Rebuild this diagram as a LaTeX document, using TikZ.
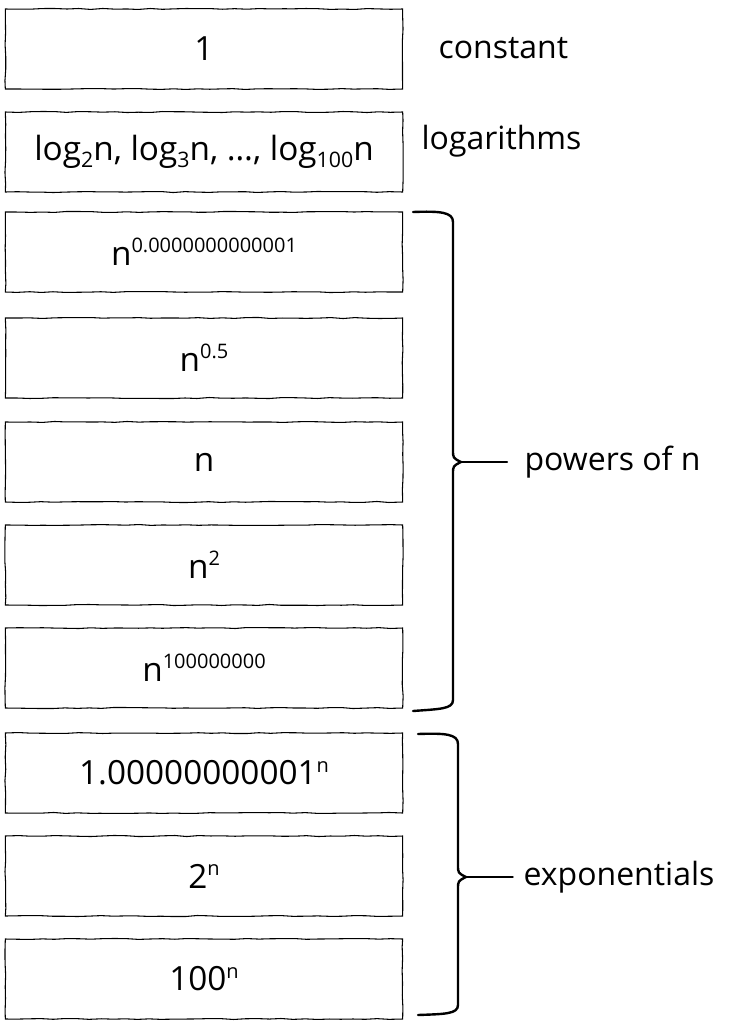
\documentclass[tikz,border=0pt]{standalone}
\usepackage{fontspec}
\setmainfont{Open Sans}
\usetikzlibrary{decorations.pathmorphing}
\newcommand\sps[1]{\raisebox{0.38em}{\fontsize{15}{15}\selectfont #1}}
\newcommand\sbs[1]{\raisebox{-0.22em}{\fontsize{16}{16}\selectfont #1}}
\tikzset{
  blk/.style={draw, line width=.8pt, minimum width=298pt, minimum height=60pt,
    font=\fontsize{25}{28}\selectfont, decorate,
    decoration={random steps, segment length=9pt, amplitude=.4pt}},
  lbl/.style={font=\fontsize{24}{28}\selectfont, anchor=west, inner sep=4pt},
  brc/.style={line width=1.8pt, line join=round, line cap=round},
}
\begin{document}
\begin{tikzpicture}[x=.75pt,y=-.75pt]
\pgfmathsetseed{11}
\useasboundingbox (0,0) rectangle (742,1035);
% boxes
\node[blk] (b1) at (204,49) {1};
\node[blk] (b2) at (204,152) {log\sbs{2}n, log\sbs{3}n, \dots, log\sbs{100}n};
\node[blk] (b3) at (204,252) {n\sps{0.0000000000001}};
\node[blk] (b4) at (204,358) {n\sps{0.5}};
\node[blk] (b5) at (204,462) {n};
\node[blk] (b6) at (204,565) {n\sps{2}};
\node[blk] (b7) at (204,668) {n\sps{100000000}};
\node[blk] (b8) at (204,773) {1.00000000001\sps{n}};
\node[blk] (b9) at (204,876) {2\sps{n}};
\node[blk] (b10) at (204,979) {100\sps{n}};
% labels
\node[lbl] (cst) at (433,48) {constant};
\node[lbl] (lgs) at (416,141) {logarithms};
\node[lbl] (pw) at (519,462) {powers of n};
\node[lbl] (ex) at (518,877) {exponentials};
% braces
\coordinate (t1) at (461,462);
\coordinate (t2) at (466,877);
\draw[brc] (413,212) .. controls (440,211) and (453,212) .. (453,222) -- (453,450)
  .. controls (453,458) .. (t1) .. controls (453,466) .. (453,474) -- (453,700)
  .. controls (453,709) and (440,709) .. (413,711);
\draw[brc] (418,734) .. controls (445,733) and (458,734) .. (458,744) -- (458,865)
  .. controls (458,873) .. (t2) .. controls (458,881) .. (458,889) -- (458,1005)
  .. controls (458,1014) and (445,1014) .. (418,1015);
\draw[brc] (t1) -- ([xshift=-9pt]pw.west);
\draw[brc] (t2) -- ([xshift=-4pt]ex.west);
\end{tikzpicture}
\end{document}
